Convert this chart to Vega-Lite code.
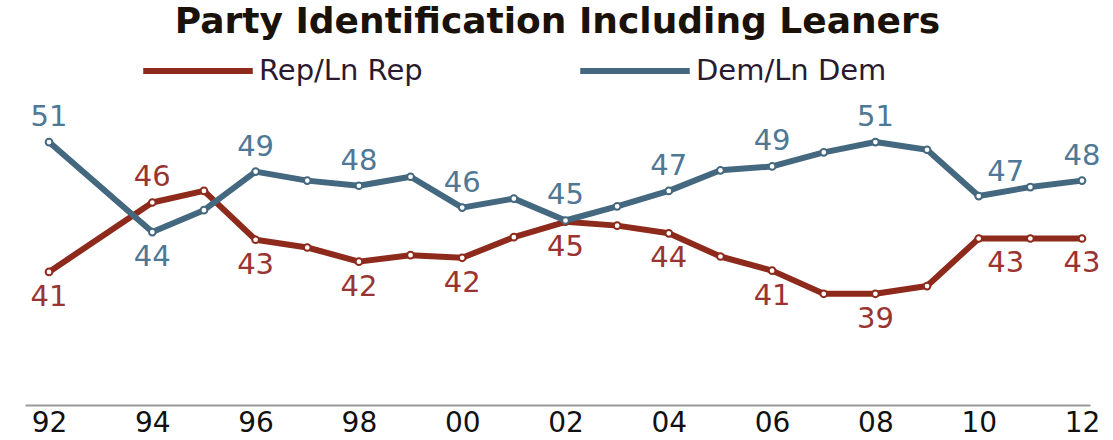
{
  "$schema": "https://vega.github.io/schema/vega-lite/v6.json",
  "width": 1065,
  "height": 305,
  "autosize": "none",
  "padding": {"left": 25, "top": 100, "right": 23, "bottom": 35},
  "background": "white",
  "title": {
    "text": "Party Identification Including Leaners",
    "anchor": "middle",
    "frame": "group",
    "font": "DejaVu Sans",
    "fontWeight": "bold",
    "fontSize": 36,
    "color": "#1a1208",
    "offset": -28
  },
  "config": {"view": {"stroke": null}},
  "data": {
    "values": [
      {"year": 1992, "party": "Rep/Ln Rep", "value": 40.9, "label": "41", "pos": "below"},
      {"year": 1994, "party": "Rep/Ln Rep", "value": 46.3, "label": "46", "pos": "above"},
      {"year": 1995, "party": "Rep/Ln Rep", "value": 47.2, "label": null, "pos": null},
      {"year": 1996, "party": "Rep/Ln Rep", "value": 43.4, "label": "43", "pos": "below"},
      {"year": 1997, "party": "Rep/Ln Rep", "value": 42.8, "label": null, "pos": null},
      {"year": 1998, "party": "Rep/Ln Rep", "value": 41.7, "label": "42", "pos": "below"},
      {"year": 1999, "party": "Rep/Ln Rep", "value": 42.2, "label": null, "pos": null},
      {"year": 2000, "party": "Rep/Ln Rep", "value": 42.0, "label": "42", "pos": "below"},
      {"year": 2001, "party": "Rep/Ln Rep", "value": 43.6, "label": null, "pos": null},
      {"year": 2002, "party": "Rep/Ln Rep", "value": 44.8, "label": "45", "pos": "below"},
      {"year": 2003, "party": "Rep/Ln Rep", "value": 44.5, "label": null, "pos": null},
      {"year": 2004, "party": "Rep/Ln Rep", "value": 43.9, "label": "44", "pos": "below"},
      {"year": 2005, "party": "Rep/Ln Rep", "value": 42.1, "label": null, "pos": null},
      {"year": 2006, "party": "Rep/Ln Rep", "value": 41.0, "label": "41", "pos": "below"},
      {"year": 2007, "party": "Rep/Ln Rep", "value": 39.2, "label": null, "pos": null},
      {"year": 2008, "party": "Rep/Ln Rep", "value": 39.2, "label": "39", "pos": "below"},
      {"year": 2009, "party": "Rep/Ln Rep", "value": 39.8, "label": null, "pos": null},
      {"year": 2010, "party": "Rep/Ln Rep", "value": 43.5, "label": "43", "pos": "below-right"},
      {"year": 2011, "party": "Rep/Ln Rep", "value": 43.5, "label": null, "pos": null},
      {"year": 2012, "party": "Rep/Ln Rep", "value": 43.5, "label": "43", "pos": "below"},
      {"year": 1992, "party": "Dem/Ln Dem", "value": 51.0, "label": "51", "pos": "above"},
      {"year": 1994, "party": "Dem/Ln Dem", "value": 44.0, "label": "44", "pos": "below"},
      {"year": 1995, "party": "Dem/Ln Dem", "value": 45.7, "label": null, "pos": null},
      {"year": 1996, "party": "Dem/Ln Dem", "value": 48.7, "label": "49", "pos": "above"},
      {"year": 1997, "party": "Dem/Ln Dem", "value": 48.0, "label": null, "pos": null},
      {"year": 1998, "party": "Dem/Ln Dem", "value": 47.6, "label": "48", "pos": "above"},
      {"year": 1999, "party": "Dem/Ln Dem", "value": 48.3, "label": null, "pos": null},
      {"year": 2000, "party": "Dem/Ln Dem", "value": 45.9, "label": "46", "pos": "above"},
      {"year": 2001, "party": "Dem/Ln Dem", "value": 46.6, "label": null, "pos": null},
      {"year": 2002, "party": "Dem/Ln Dem", "value": 44.9, "label": "45", "pos": "above"},
      {"year": 2003, "party": "Dem/Ln Dem", "value": 46.0, "label": null, "pos": null},
      {"year": 2004, "party": "Dem/Ln Dem", "value": 47.2, "label": "47", "pos": "above"},
      {"year": 2005, "party": "Dem/Ln Dem", "value": 48.8, "label": null, "pos": null},
      {"year": 2006, "party": "Dem/Ln Dem", "value": 49.1, "label": "49", "pos": "above"},
      {"year": 2007, "party": "Dem/Ln Dem", "value": 50.2, "label": null, "pos": null},
      {"year": 2008, "party": "Dem/Ln Dem", "value": 51.0, "label": "51", "pos": "above"},
      {"year": 2009, "party": "Dem/Ln Dem", "value": 50.4, "label": null, "pos": null},
      {"year": 2010, "party": "Dem/Ln Dem", "value": 46.8, "label": "47", "pos": "above-right"},
      {"year": 2011, "party": "Dem/Ln Dem", "value": 47.5, "label": null, "pos": null},
      {"year": 2012, "party": "Dem/Ln Dem", "value": 48.0, "label": "48", "pos": "above"}
    ]
  },
  "encoding": {
    "x": {
      "field": "year",
      "type": "quantitative",
      "scale": {"domain": [1991.535, 2012.155], "nice": false, "zero": false},
      "axis": {
        "values": [1992, 1994, 1996, 1998, 2000, 2002, 2004, 2006, 2008, 2010, 2012],
        "labelExpr": "slice(toString(datum.value), 2)",
        "title": null,
        "grid": false,
        "ticks": false,
        "domainColor": "#999999",
        "domainWidth": 2,
        "labelFont": "DejaVu Sans",
        "labelFontSize": 28,
        "labelColor": "#111111",
        "labelPadding": 4,
        "labelFlush": false,
        "labelOverlap": false
      }
    },
    "y": {
      "field": "value",
      "type": "quantitative",
      "scale": {"domain": [30.55, 54.27], "nice": false, "zero": false},
      "axis": null
    }
  },
  "layer": [
    {
      "mark": {"type": "line", "strokeWidth": 6, "strokeJoin": "round"},
      "encoding": {
        "color": {
          "field": "party",
          "type": "nominal",
          "scale": {"domain": ["Rep/Ln Rep", "Dem/Ln Dem"], "range": ["#8E2A1C", "#44687F"]},
          "legend": {
            "title": null,
            "orient": "none",
            "direction": "horizontal",
            "legendX": 115,
            "legendY": -87,
            "symbolType": "stroke",
            "symbolSize": 12000,
            "symbolStrokeWidth": 6,
            "labelFont": "DejaVu Sans",
            "labelFontSize": 29,
            "labelColor": "#2a1a30",
            "labelOffset": 3,
            "labelLimit": 500,
            "columnPadding": 145
          }
        }
      }
    },
    {
      "mark": {"type": "point", "filled": true, "fill": "white", "size": 45, "strokeWidth": 2, "opacity": 1},
      "encoding": {
        "stroke": {
          "field": "party",
          "type": "nominal",
          "scale": {"domain": ["Rep/Ln Rep", "Dem/Ln Dem"], "range": ["#8E2A1C", "#44687F"]},
          "legend": null
        }
      }
    },
    {
      "transform": [{"filter": "datum.pos === 'above'"}],
      "mark": {"type": "text", "dy": -25, "font": "DejaVu Sans", "fontSize": 29, "baseline": "middle"},
      "encoding": {
        "text": {"field": "label"},
        "color": {"condition": {"test": "datum.party === 'Rep/Ln Rep'", "value": "#9a3432"}, "value": "#4f7896"}
      }
    },
    {
      "transform": [{"filter": "datum.pos === 'below'"}],
      "mark": {"type": "text", "dy": 25, "font": "DejaVu Sans", "fontSize": 29, "baseline": "middle"},
      "encoding": {
        "text": {"field": "label"},
        "color": {"condition": {"test": "datum.party === 'Rep/Ln Rep'", "value": "#9a3432"}, "value": "#4f7896"}
      }
    },
    {
      "transform": [{"filter": "datum.pos === 'above-right'"}],
      "mark": {"type": "text", "dy": -24, "dx": 27, "font": "DejaVu Sans", "fontSize": 29, "baseline": "middle"},
      "encoding": {
        "text": {"field": "label"},
        "color": {"condition": {"test": "datum.party === 'Rep/Ln Rep'", "value": "#9a3432"}, "value": "#4f7896"}
      }
    },
    {
      "transform": [{"filter": "datum.pos === 'below-right'"}],
      "mark": {"type": "text", "dy": 25, "dx": 27, "font": "DejaVu Sans", "fontSize": 29, "baseline": "middle"},
      "encoding": {
        "text": {"field": "label"},
        "color": {"condition": {"test": "datum.party === 'Rep/Ln Rep'", "value": "#9a3432"}, "value": "#4f7896"}
      }
    }
  ]
}
